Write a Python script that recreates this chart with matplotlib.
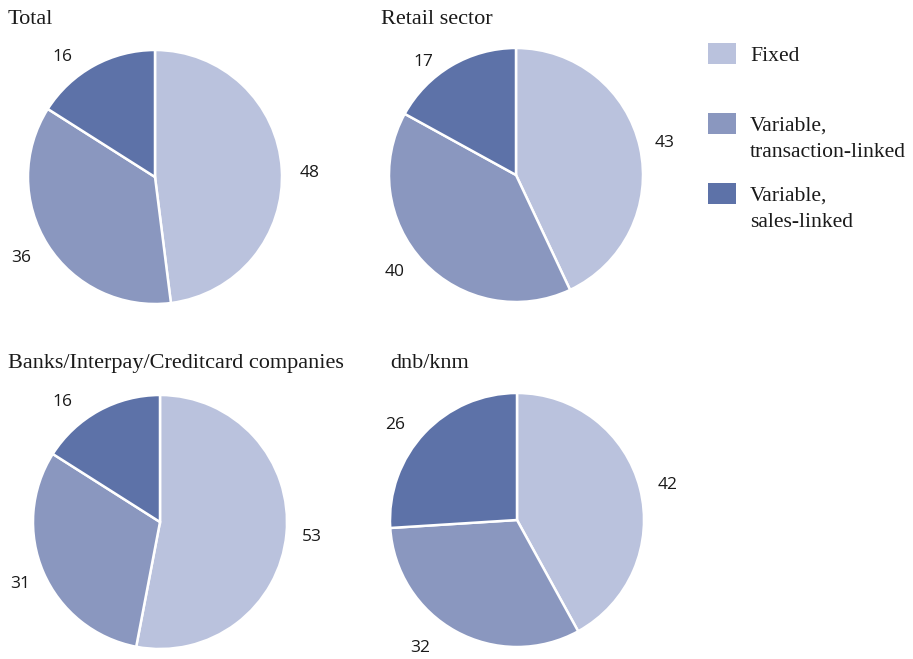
import matplotlib.pyplot as plt
from matplotlib.patches import Rectangle

# --- Data ---
CATEGORIES = ['Fixed', 'Variable,\ntransaction-linked', 'Variable,\nsales-linked']
COLORS = ['#bac2dd', '#8a97bf', '#5d72a8']

TITLES = ['Total', 'Retail sector', 'Banks/Interpay/Creditcard companies', 'dnb/knm']
TOTAL = [48, 36, 16]
RETAIL = [43, 40, 17]
BANKS = [53, 31, 16]
DNB_KNM = [42, 32, 26]
SHARES = [TOTAL, RETAIL, BANKS, DNB_KNM]

# --- Layout (pixels) ---
W, H = 913, 659
CENTERS = [(155, 177), (516, 175), (160, 522), (517, 520)]
TITLE_POS = [(8, 19), (381, 19), (8, 363), (390, 363)]
# label offsets from each pie centre (dx right, dy down)
LABEL_OFFSETS = [
    [(155, -4), (-134, 81), (-93, -120)],
    [(149, -32), (-121, 97), (-93, -113)],
    [(152, 15), (-140, 62), (-98, -120)],
    [(151, -35), (-97, 128), (-122, -95)],
]
RADIUS = 127
SERIF = 'Liberation Serif'
SANS = 'Open Sans'

fig = plt.figure(figsize=(W / 100, H / 100), dpi=100)

half = RADIUS * 1.25
for (cx, cy), vals, offs, title, (tx, ty) in zip(CENTERS, SHARES, LABEL_OFFSETS,
                                                 TITLES, TITLE_POS):
    ax = fig.add_axes([(cx - half) / W, (H - cy - half) / H, 2 * half / W, 2 * half / H])
    wedges, texts = ax.pie(vals, colors=COLORS, startangle=90, counterclock=False,
                           labels=[str(v) for v in vals],
                           wedgeprops=dict(edgecolor='white', linewidth=1.8),
                           textprops=dict(fontsize=12.5, family=SANS, color='#1a1a1a'))
    for t, (dx, dy) in zip(texts, offs):
        t.set_position((dx / RADIUS, -dy / RADIUS))
        t.set_ha('center')
        t.set_va('center')
    ax.set_xlim(-1.25, 1.25)
    ax.set_ylim(-1.25, 1.25)
    fig.text(tx / W, 1 - ty / H, title, fontsize=16, family=SERIF,
             color='#1a1a1a', ha='left', va='center')

# Legend drawn as swatches beside the pies
legend_tops = [43, 113, 183]
for label, color, top in zip(CATEGORIES, COLORS, legend_tops):
    fig.patches.append(Rectangle((708 / W, 1 - (top + 21) / H), 28 / W, 21 / H,
                                 transform=fig.transFigure, facecolor=color,
                                 edgecolor='none'))
    fig.text(750 / W, 1 - (top + 4) / H, label, fontsize=15.6, family=SERIF,
             color='#1a1a1a', ha='left', va='top', linespacing=1.47)

fig.savefig('out.png', dpi=100)
